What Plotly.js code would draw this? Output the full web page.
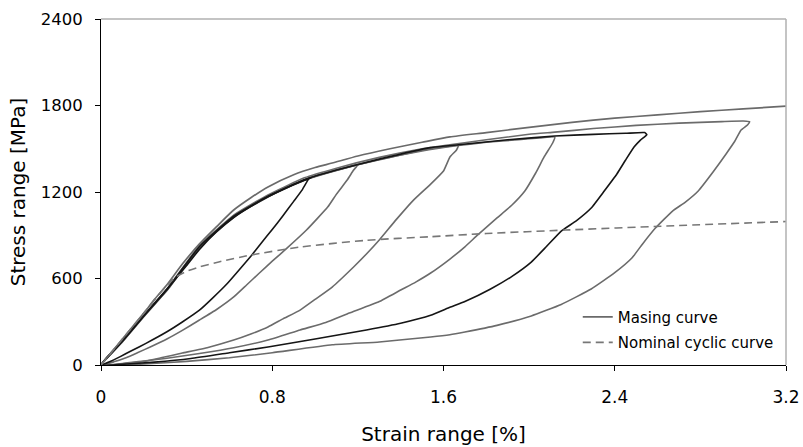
<!DOCTYPE html>
<html>
<head>
<meta charset="utf-8">
<script src="https://cdn.plot.ly/plotly-3.0.1.min.js"></script>
<style>html,body{margin:0;padding:0;background:#fff;}#chart{width:803px;height:447px;}</style>
</head>
<body>
<div id="chart"></div>
<script>
// ---- data ----
var masingX = [0, 0.05, 0.1, 0.15, 0.2, 0.25, 0.31, 0.38, 0.46, 0.54, 0.62, 0.7, 0.78, 0.9, 1.0, 1.08, 1.2, 1.35, 1.5, 1.63, 1.8, 2.0, 2.2, 2.4, 2.6, 2.8, 3.0, 3.2];
var masingY = [0, 90, 180, 270, 360, 455, 560, 700, 840, 960, 1075, 1160, 1235, 1320, 1370, 1401, 1450, 1500, 1545, 1582, 1612, 1648, 1683, 1712, 1735, 1757, 1777, 1795];

var nominalX = [0, 0.1, 0.2, 0.3, 0.35, 0.4, 0.46, 0.55, 0.7, 0.93, 1.24, 1.54, 1.8, 2.17, 2.64, 3.2];
var nominalY = [0, 180, 360, 540, 610, 650, 680, 715, 763, 818, 865, 890, 912, 936, 964, 995];

var loop1X = [0, 0.05, 0.1, 0.15, 0.2, 0.31, 0.4, 0.46, 0.54, 0.62, 0.7, 0.78, 0.86, 0.93, 0.98, 0.97, 0.94, 0.9, 0.85, 0.8, 0.75, 0.7, 0.64, 0.59, 0.52, 0.46, 0.38, 0.31, 0.21, 0.14, 0.09, 0.04, 0];
var loop1Y = [0, 82, 165, 252, 340, 528, 690, 802, 925, 1022, 1100, 1167, 1225, 1270, 1298, 1290, 1215, 1135, 1035, 940, 848, 755, 650, 565, 462, 380, 298, 232, 150, 97, 58, 22, 0];

var loop2X = [0, 0.1, 0.2, 0.31, 0.46, 0.62, 0.78, 0.9, 1.0, 1.08, 1.15, 1.2, 1.18, 1.15, 1.1, 1.06, 0.96, 0.87, 0.8, 0.74, 0.68, 0.62, 0.54, 0.46, 0.38, 0.31, 0.23, 0.17, 0.12, 0.06, 0];
var loop2Y = [0, 162, 335, 522, 815, 1025, 1165, 1255, 1310, 1345, 1372, 1390, 1352, 1283, 1185, 1097, 936, 812, 720, 638, 555, 472, 385, 312, 240, 182, 125, 85, 52, 22, 0];

var loop3X = [0, 0.1, 0.2, 0.31, 0.46, 0.62, 0.78, 0.95, 1.08, 1.2, 1.35, 1.5, 1.6, 1.67, 1.66, 1.63, 1.6, 1.54, 1.46, 1.38, 1.3, 1.24, 1.18, 1.08, 1.0, 0.93, 0.85, 0.78, 0.7, 0.62, 0.5, 0.38, 0.28, 0.2, 0.1, 0];
var loop3Y = [0, 165, 340, 525, 820, 1030, 1170, 1285, 1342, 1390, 1440, 1490, 1512, 1525, 1490, 1443, 1346, 1255, 1144, 1010, 867, 770, 680, 541, 455, 381, 320, 264, 215, 173, 122, 83, 50, 25, 8, 0];

var loop4X = [0, 0.1, 0.2, 0.31, 0.46, 0.62, 0.78, 0.95, 1.1, 1.3, 1.5, 1.67, 1.8, 1.95, 2.05, 2.12, 2.11, 2.07, 2.03, 1.98, 1.92, 1.85, 1.76, 1.7, 1.63, 1.54, 1.47, 1.4, 1.3, 1.16, 1.05, 0.93, 0.78, 0.62, 0.46, 0.3, 0.2, 0.1, 0];
var loop4Y = [0, 160, 338, 520, 818, 1028, 1168, 1282, 1350, 1425, 1485, 1522, 1545, 1563, 1575, 1581, 1540, 1443, 1330, 1207, 1110, 1020, 902, 820, 735, 638, 575, 520, 440, 360, 295, 243, 173, 120, 80, 45, 28, 10, 0];

var loop5X = [0, 0.1, 0.2, 0.31, 0.46, 0.62, 0.78, 0.95, 1.1, 1.3, 1.54, 1.67, 1.9, 2.12, 2.3, 2.45, 2.54, 2.55, 2.52, 2.49, 2.45, 2.41, 2.35, 2.29, 2.22, 2.15, 2.08, 2.01, 1.92, 1.82, 1.7, 1.63, 1.54, 1.4, 1.24, 1.0, 0.78, 0.6, 0.42, 0.25, 0.1, 0];
var loop5Y = [0, 168, 342, 528, 822, 1032, 1170, 1285, 1352, 1428, 1508, 1528, 1562, 1588, 1600, 1607, 1612, 1598, 1560, 1512, 1420, 1325, 1205, 1089, 1000, 929, 820, 714, 615, 527, 440, 400, 345, 290, 243, 180, 125, 85, 45, 20, 5, 0];

var loop6X = [0, 0.1, 0.2, 0.31, 0.46, 0.62, 0.78, 0.95, 1.1, 1.3, 1.5, 1.63, 1.8, 2.0, 2.12, 2.3, 2.5, 2.7, 2.9, 3.0, 3.03, 3.02, 2.99, 2.96, 2.92, 2.86, 2.79, 2.73, 2.67, 2.59, 2.53, 2.48, 2.4, 2.29, 2.15, 2.01, 1.85, 1.7, 1.63, 1.54, 1.3, 1.08, 0.8, 0.6, 0.4, 0.2, 0];
var loop6Y = [0, 170, 345, 532, 828, 1040, 1180, 1298, 1365, 1440, 1500, 1528, 1562, 1600, 1615, 1640, 1662, 1678, 1688, 1692, 1688, 1665, 1630, 1550, 1464, 1340, 1207, 1130, 1068, 950, 840, 742, 640, 527, 420, 340, 275, 229, 210, 194, 160, 140, 85, 50, 25, 8, 0];

var xTicks = [0, 0.8, 1.6, 2.4, 3.2];
var xTickText = ['0', '0.8', '1.6', '2.4', '3.2'];
var yTicks = [0, 600, 1200, 1800, 2400];
var yTickText = ['0', '600', '1200', '1800', '2400'];

var legendNames = ['Masing curve', 'Nominal cyclic curve'];

// ---- traces ----
var GRAY = '#6b6b6b';
var BLACK = '#151515';
function loopTrace(x, y, color) {
  return {x: x, y: y, type: 'scatter', mode: 'lines', showlegend: false, hoverinfo: 'skip',
          line: {color: color, width: 1.6, shape: 'spline', smoothing: 0.4}};
}
var traces = [
  loopTrace(loop6X, loop6Y, GRAY),
  loopTrace(loop4X, loop4Y, GRAY),
  loopTrace(loop3X, loop3Y, GRAY),
  loopTrace(loop2X, loop2Y, GRAY),
  loopTrace(loop5X, loop5Y, BLACK),
  loopTrace(loop1X, loop1Y, BLACK),
  {x: masingX, y: masingY, type: 'scatter', mode: 'lines', name: legendNames[0], legendgroup: 'm',
   line: {color: '#6a6a6a', width: 1.7, shape: 'spline', smoothing: 0.6}},
  {x: nominalX, y: nominalY, type: 'scatter', mode: 'lines', name: legendNames[1], legendgroup: 'n',
   line: {color: '#777777', width: 1.6, dash: '8px,5px', shape: 'spline', smoothing: 0.6}}
];

var FONT = 'DejaVu Sans, Liberation Sans, Arial, sans-serif';
var layout = {
  width: 803, height: 447,
  margin: {l: 101, r: 17, t: 19, b: 82, pad: 0, autoexpand: false},
  paper_bgcolor: '#ffffff', plot_bgcolor: '#ffffff',
  font: {family: FONT, color: '#000000'},
  showlegend: true,
  legend: {x: 0.696, y: 0.186, xanchor: 'left', yanchor: 'top', bgcolor: 'rgba(0,0,0,0)',
           font: {family: FONT, size: 15, color: '#000'}, tracegroupgap: 3, traceorder: 'grouped'},
  xaxis: {range: [0, 3.2], tickvals: xTicks, ticktext: xTickText, ticks: 'outside', ticklen: 5,
          tickcolor: '#000', tickwidth: 1, showline: true, linecolor: '#000', linewidth: 1,
          showgrid: false, zeroline: false, tickfont: {family: FONT, size: 17}, ticklabelstandoff: 12,
          automargin: true,
          title: {text: 'Strain range [%]', font: {family: FONT, size: 20}, standoff: 20}},
  yaxis: {range: [0, 2400], tickvals: yTicks, ticktext: yTickText, ticks: 'outside', ticklen: 5,
          tickcolor: '#000', tickwidth: 1, showline: true, linecolor: '#000', linewidth: 1,
          showgrid: false, zeroline: false, tickfont: {family: FONT, size: 16.5}, ticklabelstandoff: 9,
          automargin: true,
          title: {text: 'Stress range [MPa]', font: {family: FONT, size: 20}, standoff: 9}},
  shapes: [
    {type: 'line', xref: 'paper', yref: 'paper', x0: 0, x1: 1, y0: 1, y1: 1, line: {color: '#b0b0b0', width: 1.5}},
    {type: 'line', xref: 'paper', yref: 'paper', x0: 1, x1: 1, y0: 0, y1: 1, line: {color: '#b0b0b0', width: 1.5}}
  ]
};

Plotly.newPlot('chart', traces, layout, {staticPlot: true, displayModeBar: false});
</script>
</body>
</html>
